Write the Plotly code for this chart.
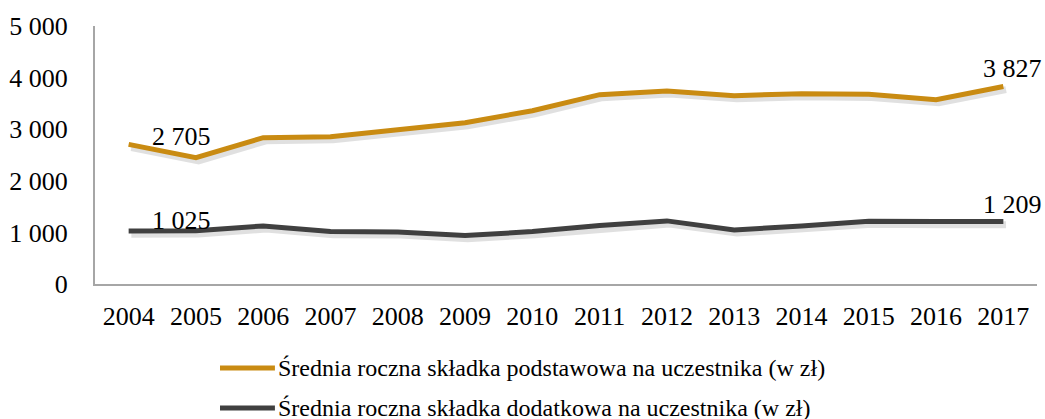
import plotly.graph_objects as go

years = ["2004", "2005", "2006", "2007", "2008", "2009", "2010",
         "2011", "2012", "2013", "2014", "2015", "2016", "2017"]
podstawowa = [2705, 2447, 2835, 2854, 2990, 3126, 3359,
              3670, 3741, 3650, 3689, 3676, 3573, 3827]
dodatkowa = [1025, 1030, 1126, 1016, 1010, 938, 1016,
             1133, 1223, 1048, 1126, 1217, 1210, 1209]
name_p = "Średnia roczna składka podstawowa na uczestnika (w zł)"
name_d = "Średnia roczna składka dodatkowa na uczestnika (w zł)"

GOLD = "#c98b12"
DARK = "#404040"
FONT = "Liberation Serif"

def fmt(v):
    return f"{v:,}".replace(",", " ")

xs = list(range(len(years)))
fig = go.Figure()

# soft drop shadow under each line
for vals in (podstawowa, dodatkowa):
    fig.add_trace(go.Scatter(x=[i + 0.04 for i in xs], y=[v - 60 for v in vals],
                             mode="lines", line=dict(color="rgba(0,0,0,0.12)", width=7),
                             hoverinfo="skip", showlegend=False))

fig.add_trace(go.Scatter(x=xs, y=podstawowa, mode="lines", name=name_p,
                         line=dict(color=GOLD, width=5), showlegend=False))
fig.add_trace(go.Scatter(x=xs, y=dodatkowa, mode="lines", name=name_d,
                         line=dict(color=DARK, width=5), showlegend=False))

# data labels on first and last point
labels = [
    (0, podstawowa[0], "left", 21, 8),
    (0, dodatkowa[0], "left", 21, 11),
    (13, podstawowa[-1], "center", 9, 18),
    (13, dodatkowa[-1], "center", 9, 17),
]
for x, y, anchor, dx, dy in labels:
    fig.add_annotation(x=x, y=y, text=fmt(y), showarrow=False, xanchor=anchor,
                       yanchor="middle", xshift=dx, yshift=dy,
                       font=dict(family=FONT, size=26, color="#000"))

# legend drawn by hand (long line swatches like the original)
for yy, col, name in ((-0.326, GOLD, name_p), (-0.481, DARK, name_d)):
    fig.add_shape(type="line", xref="paper", yref="paper", x0=0.1327, x1=0.191,
                  y0=yy, y1=yy, line=dict(color=col, width=5))
    fig.add_annotation(xref="paper", yref="paper", x=0.192, y=yy, text=name,
                       showarrow=False, xanchor="left", yanchor="middle",
                       font=dict(family=FONT, size=24, color="#000"))

fig.update_layout(
    width=1045, height=419,
    margin=dict(l=95, r=8, t=26, b=135),
    plot_bgcolor="white", paper_bgcolor="white",
    font=dict(family=FONT, size=26, color="#000"),
    xaxis=dict(range=[-0.5, 13.5], tickvals=xs, ticktext=years, showgrid=False,
               zeroline=False, showline=True, linecolor="#a6a6a6", linewidth=2,
               ticks="", ticklabelstandoff=8, tickfont=dict(size=26)),
    yaxis=dict(range=[0, 5000], tickvals=[0, 1000, 2000, 3000, 4000, 5000],
               ticktext=[fmt(v) for v in [0, 1000, 2000, 3000, 4000, 5000]],
               showgrid=False, zeroline=False, showline=True, linecolor="#a6a6a6",
               linewidth=2, ticks="", ticklabelstandoff=20, tickfont=dict(size=26)),
)

fig.write_html("out.html", config={"displayModeBar": False},
               post_script="document.body.style.margin='0';")
